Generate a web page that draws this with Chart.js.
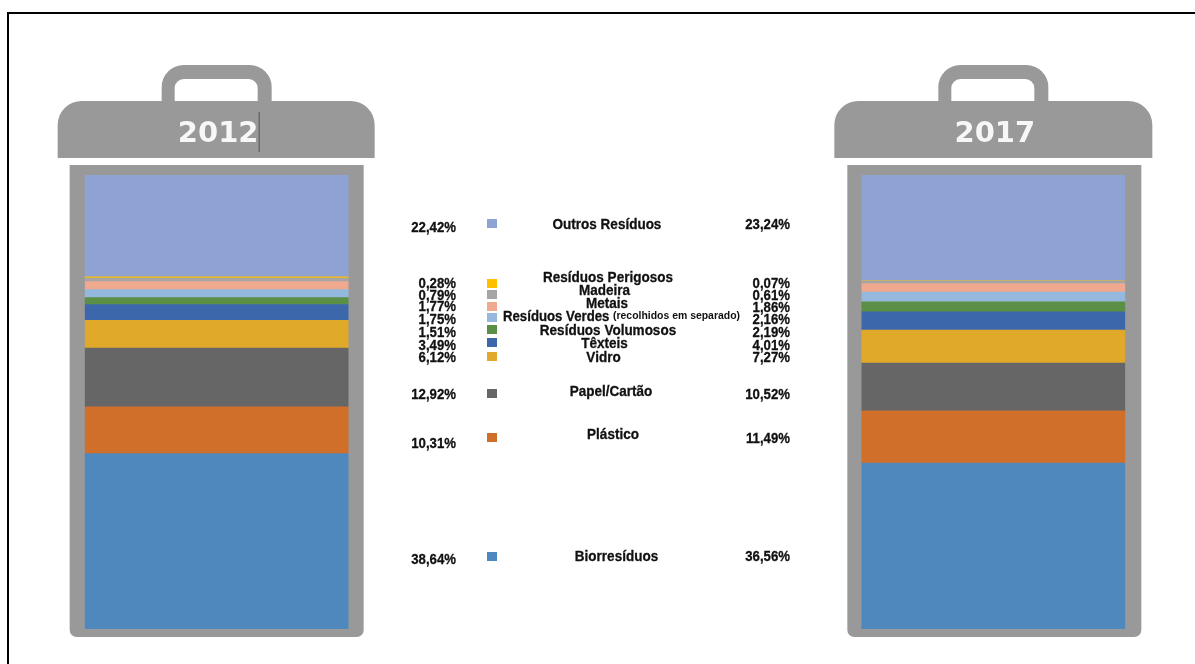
<!DOCTYPE html>
<html lang="pt">

<head>
  <meta charset="UTF-8" />
  <title>Resíduos 2012 / 2017</title>
  <script src="https://cdn.jsdelivr.net/npm/chart.js@4"></script>
  <style>
    html, body { margin: 0; padding: 0; background: #fff; overflow: hidden; }
    #wrap { width: 1195px; height: 664px; }
  </style>
</head>

<body>
  <div id="wrap"><canvas id="waste-chart"></canvas></div>

  <script>
    // data, bottom of the bin first
    const years = ['2012', '', '2017'];
    const categories = ['Biorresíduos', 'Plástico', 'Papel/Cartão', 'Vidro', 'Têxteis', 'Resíduos Volumosos',
      'Resíduos Verdes', 'Metais', 'Madeira', 'Resíduos Perigosos', 'Outros Resíduos'];
    const values2012 = [38.64, 10.31, 12.92, 6.12, 3.49, 1.51, 1.75, 1.77, 0.79, 0.28, 22.42];
    const values2017 = [36.56, 11.49, 10.52, 7.27, 4.01, 2.19, 2.16, 1.86, 0.61, 0.07, 23.24];
    const colors = ['#4f88bd', '#d06f2a', '#666666', '#e1a92a', '#3c68ab', '#5a8f45',
      '#95b9de', '#efa98f', '#a5a5a5', '#ffc000', '#8fa2d4'];

    // hand placed rows of the middle table
    const labelX = [616.5, 613, 611, 603.5, 604.5, 608, 503, 607, 604.5, 608, 607];
    const labelY = [561, 439, 396, 362, 348, 335, 321, 308, 295, 282, 229];
    const leftY = [564, 448, 399, 362, 350, 337, 324, 311, 300, 288, 232];
    const rightY = [561, 443, 399, 362, 350, 337, 324, 312, 300, 288, 229];
    const swatchY = [552, 433, 389, 352, 338, 325, 313, 302, 290, 279, 219];

    const fmt = v => v.toFixed(2).replace('.', ',') + '%';
    const textFont = size => "bold " + size + "px 'Liberation Sans', sans-serif";

    // draws text squeezed sideways, the original type is a condensed one
    function squeezed(ctx, text, x, y, factor) {
      const w = ctx.measureText(text).width * factor;
      ctx.fillText(text, x, y, w);
      ctx.strokeText(text, x, y, w);
    }

    // the gray bin drawn round each bar
    const binPlugin = {
      id: 'bin',
      beforeDatasetsDraw(chart) {
        const ctx = chart.ctx;
        const area = chart.chartArea;
        const meta = chart.getDatasetMeta(0);
        ctx.save();
        [0, 2].forEach(i => {
          const cx = meta.data[i].x;
          const shift = i === 2 ? 1 : 0;
          ctx.fillStyle = '#999999';
          // body
          ctx.beginPath();
          ctx.roundRect(cx - 147 + shift, area.top - 10, 294, area.bottom - area.top + 18, [0, 0, 7, 7]);
          ctx.fill();
          // handle
          ctx.beginPath();
          ctx.roundRect(cx - 55, area.top - 110, 110, 60, [22, 22, 0, 0]);
          ctx.fill();
          ctx.fillStyle = '#ffffff';
          ctx.beginPath();
          ctx.roundRect(cx - 42, area.top - 96, 83, 40, [9, 9, 0, 0]);
          ctx.fill();
          // lid
          ctx.fillStyle = '#999999';
          ctx.beginPath();
          ctx.roundRect(cx - 159, area.top - 74, 317 + shift, 57, [24, 24, 0, 0]);
          ctx.fill();
          // year on the lid
          ctx.fillStyle = '#f7f7f7';
          ctx.font = "bold 29px 'DejaVu Sans', sans-serif";
          ctx.textAlign = 'center';
          ctx.textBaseline = 'alphabetic';
          ctx.fillText(years[i], cx + 1.5, area.top - 33);
        });
        // stray thin line next to 2012 in the original
        ctx.fillStyle = '#555555';
        ctx.fillRect(meta.data[0].x + 42, area.top - 63, 1, 40);
        ctx.restore();
      }
    };

    // middle table: percentages, swatches and names
    const tablePlugin = {
      id: 'table',
      afterDatasetsDraw(chart) {
        const ctx = chart.ctx;
        ctx.save();
        ctx.textBaseline = 'alphabetic';
        ctx.strokeStyle = '#111111';
        ctx.lineWidth = 0.3;
        categories.forEach((name, i) => {
          ctx.fillStyle = '#111111';
          ctx.font = textFont(15);
          ctx.textAlign = 'right';
          squeezed(ctx, fmt(values2012[i]), 456, leftY[i], 0.88);
          squeezed(ctx, fmt(values2017[i]), 790, rightY[i], 0.88);

          if (name === 'Resíduos Verdes') {
            ctx.textAlign = 'left';
            squeezed(ctx, name, labelX[i], labelY[i], 0.88);
            ctx.font = textFont(10.5);
            ctx.fillText('(recolhidos em separado)', 613, labelY[i] - 2, 127);
          } else {
            ctx.textAlign = 'center';
            squeezed(ctx, name, labelX[i], labelY[i], 0.9);
          }

          ctx.fillStyle = colors[i];
          ctx.fillRect(487, swatchY[i], 10, 9);
        });
        ctx.restore();
      }
    };

    // black frame of the original picture, only top and left are there
    const framePlugin = {
      id: 'frame',
      afterDraw(chart) {
        const ctx = chart.ctx;
        ctx.save();
        ctx.strokeStyle = '#000000';
        ctx.lineWidth = 2;
        ctx.beginPath();
        ctx.moveTo(8, 664);
        ctx.lineTo(8, 13);
        ctx.lineTo(1195, 13);
        ctx.stroke();
        ctx.restore();
      }
    };

    new Chart(document.getElementById('waste-chart').getContext('2d'), {
      type: 'bar',
      data: {
        labels: years,
        datasets: categories.map((name, i) => ({
          label: name,
          data: [values2012[i], null, values2017[i]],
          backgroundColor: colors[i],
          barThickness: 263,
          borderWidth: 0
        }))
      },
      options: {
        responsive: true,
        maintainAspectRatio: false,
        animation: false,
        layout: { padding: { left: 22.5, right: 7.5, top: 175, bottom: 35 } },
        plugins: { legend: { display: false }, tooltip: { enabled: false } },
        scales: {
          x: { stacked: true, display: false },
          y: { stacked: true, display: false, min: 0, max: 100 }
        }
      },
      plugins: [binPlugin, tablePlugin, framePlugin]
    });
  </script>
</body>

</html>
